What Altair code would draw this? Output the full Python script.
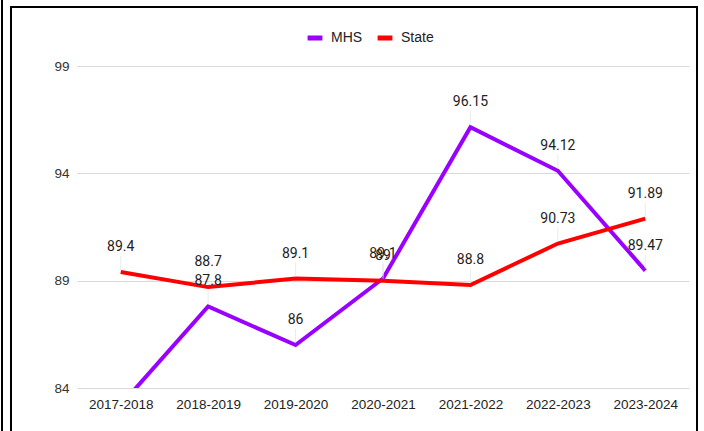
import altair as alt
import pandas as pd

years = ["2017-2018", "2018-2019", "2019-2020", "2020-2021", "2021-2022", "2022-2023", "2023-2024"]
mhs = [83.2, 87.8, 86.0, 89.1, 96.15, 94.12, 89.47]
state = [89.4, 88.7, 89.1, 89.0, 88.8, 90.73, 91.89]
mhs_labels = ["", "87.8", "86", "89.1", "96.15", "94.12", "89.47"]
state_labels = ["89.4", "88.7", "89.1", "89", "88.8", "90.73", "91.89"]
y_ticks = [84, 89, 94, 99]

rows = []
for i, yr in enumerate(years):
    rows.append({"Year": yr, "Series": "MHS", "Value": mhs[i], "Label": mhs_labels[i]})
    rows.append({"Year": yr, "Series": "State", "Value": state[i], "Label": state_labels[i]})
df = pd.DataFrame(rows)

x_enc = alt.X("Year:N", sort=years, title=None,
              scale=alt.Scale(type="point", padding=0.5),
              axis=alt.Axis(labelAngle=0, labelFont="Liberation Sans", labelFontSize=13.5,
                            labelColor="#222", labelPadding=9, domain=False, ticks=False, grid=False))
y_enc = alt.Y("Value:Q", title=None,
              scale=alt.Scale(domain=[84, 99], nice=False, zero=False),
              axis=alt.Axis(values=y_ticks, labelFont="Liberation Sans", labelFontSize=13.5,
                            labelColor="#333", labelPadding=8, domain=False, ticks=False,
                            grid=True, gridColor="#d9d9d9", gridWidth=1))
color_enc = alt.Color("Series:N", scale=alt.Scale(domain=["MHS", "State"], range=["#9900ff", "#ff0000"]),
                      legend=alt.Legend(title=None, orient="none", direction="horizontal",
                                        legendX=228, legendY=-38, symbolType="stroke",
                                        symbolStrokeWidth=5, symbolSize=220,
                                        labelFont="Liberation Sans", labelFontSize=14,
                                        labelColor="#222", columnPadding=4, labelOffset=6))

base = alt.Chart(df)

lines = base.mark_line(strokeWidth=4, clip=True, strokeJoin="miter").encode(
    x=x_enc, y=y_enc, color=color_enc)

labelled = base.transform_filter("datum.Value >= 84")

leaders = labelled.mark_tick(orient="vertical", size=14, thickness=1, color="#e3e3e3", yOffset=-9).encode(
    x=alt.X("Year:N", sort=years), y="Value:Q")

texts = labelled.mark_text(dy=-25, baseline="middle", font="Roboto", fontSize=14, color="#222").encode(
    x=alt.X("Year:N", sort=years), y="Value:Q", text="Label:N")

frame = alt.Chart(pd.DataFrame({"k": [0]})).mark_rect(fill=None, stroke="#000", strokeWidth=2).encode(
    x=alt.value(-66), x2=alt.value(620), y=alt.value(-59), y2=alt.value(380))

edge = alt.Chart(pd.DataFrame({"k": [0]})).mark_rule(color="#000", strokeWidth=2).encode(
    x=alt.value(-75), y=alt.value(-70), y2=alt.value(380))

chart = alt.layer(lines, leaders, texts, frame, edge).properties(
    width=612, height=322,
    autosize=alt.AutoSizeParams(type="none"),
    padding={"left": 77, "top": 66, "right": 15, "bottom": 43},
    background="white",
).configure_view(stroke=None)

chart.save("out.html", embed_options={"renderer": "svg", "actions": False})
